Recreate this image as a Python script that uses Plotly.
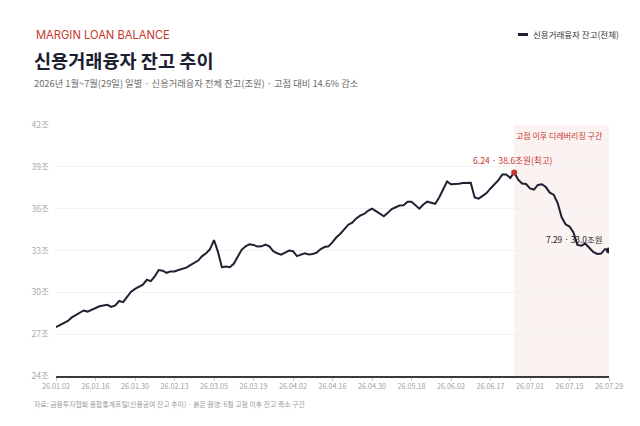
import plotly.graph_objects as go

# ---- data ----
balance = [
    27.5, 27.65, 27.8, 27.95, 28.2, 28.35, 28.55, 28.7, 28.62, 28.75,
    28.9, 29.0, 29.05, 29.1, 28.95, 29.07, 29.38, 29.3, 29.68, 30.05,
    30.25, 30.4, 30.55, 30.9, 30.8, 31.15, 31.6, 31.55, 31.4, 31.5,
    31.5, 31.6, 31.7, 31.77, 31.95, 32.1, 32.28, 32.6, 32.8, 33.1,
    33.75, 32.9, 31.8, 31.85, 31.8, 32.05, 32.55, 33.05, 33.3, 33.45,
    33.4, 33.28, 33.3, 33.42, 33.3, 32.95, 32.8, 32.7, 32.85, 33.0,
    32.95, 32.6, 32.7, 32.8, 32.72, 32.75, 32.85, 33.1, 33.25, 33.3,
    33.6, 33.95, 34.2, 34.5, 34.85, 35.0, 35.3, 35.5, 35.62, 35.85,
    36.0, 35.82, 35.65, 35.45, 35.7, 35.97, 36.1, 36.22, 36.25, 36.5,
    36.5, 36.25, 36.0, 36.3, 36.5, 36.43, 36.35, 36.8, 37.4, 37.95,
    37.75, 37.75, 37.78, 37.84, 37.82, 37.85, 36.8, 36.72, 36.92, 37.12,
    37.45, 37.75, 38.05, 38.45, 38.45, 38.2, 38.6, 38.08, 37.8, 37.77,
    37.45, 37.37, 37.7, 37.75, 37.55, 37.15, 37.0, 36.4, 35.4, 34.88,
    34.72, 34.3, 33.4, 33.35, 33.5, 33.2, 32.9, 32.75, 32.78, 33.1,
    33.0,
]
x_tick_labels = ["26.01.02", "26.01.16", "26.01.30", "26.02.13", "26.03.05",
                 "26.03.19", "26.04.02", "26.04.16", "26.04.30", "26.05.18",
                 "26.06.02", "26.06.17", "26.07.01", "26.07.15", "26.07.29"]
x_tick_step = 10
y_tick_values = [24, 27, 30, 33, 36, 39, 42]
y_tick_labels = ["24조", "27조", "30조", "33조", "36조", "39조", "42조"]

series_name = "신용거래융자 잔고(전체)"
kicker = "MARGIN LOAN BALANCE"
title = "신용거래융자 잔고 추이"
subtitle = "2026년 1월~7월(29일) 일별 · 신용거래융자 전체 잔고(조원) · 고점 대비 14.6% 감소"
footer = "자료: 금융투자협회 종합통계포털(신용공여 잔고 추이) · 붉은 음영: 6월 고점 이후 잔고 축소 구간"
zone_label = "고점 이후 디레버리징 구간"
peak_label = "6.24 · 38.6조원(최고)"
end_label = "7.29 · 33.0조원"

# ---- derived ----
x = list(range(len(balance)))
peak_i = max(x, key=lambda i: balance[i])
last_i = x[-1]
tickvals = [i * x_tick_step for i in range(len(x_tick_labels))]

FONT = "Noto Sans CJK KR, Noto Sans, sans-serif"
RED = "#c8372d"
NAVY = "#1d2131"

W, H = 640, 426
L, R, T, B = 56, 31, 125, 50
pw, ph = W - L - R, H - T - B


def px(xpix):
    return (xpix - L) / pw


def py(ypix):
    return (H - B - ypix) / ph


fig = go.Figure()

# shaded de-leveraging zone
fig.add_shape(type="rect", xref="x", yref="y", x0=peak_i, x1=last_i,
              y0=y_tick_values[0], y1=y_tick_values[-1],
              fillcolor="#fbf2f2", line_width=0, layer="below")

fig.add_trace(go.Scatter(x=x, y=balance, mode="lines", name=series_name,
                         line=dict(color=NAVY, width=2), hoverinfo="skip",
                         showlegend=False))
fig.add_trace(go.Scatter(x=[peak_i], y=[balance[peak_i]], mode="markers",
                         marker=dict(color=RED, size=6), showlegend=False,
                         hoverinfo="skip"))
fig.add_trace(go.Scatter(x=[last_i], y=[balance[last_i]], mode="markers",
                         marker=dict(color=NAVY, size=6), showlegend=False,
                         hoverinfo="skip"))

ann = []
ann.append(dict(x=peak_i, y=balance[peak_i], xref="x", yref="y", text=peak_label,
                showarrow=False, yshift=12, xshift=-1,
                font=dict(family=FONT, size=8.6, color=RED)))
ann.append(dict(x=last_i, y=balance[last_i], xref="x", yref="y", text=end_label,
                showarrow=False, xanchor="right", xshift=-5, yshift=12,
                font=dict(family=FONT, size=8.4, color="#222")))
ann.append(dict(x=last_i, y=y_tick_values[-1], xref="x", yref="y", text=zone_label,
                showarrow=False, xanchor="right", yanchor="top", xshift=-4, yshift=-3,
                font=dict(family=FONT, size=8, color=RED)))
# header
ann.append(dict(x=px(34), y=py(35), xref="paper", yref="paper", text=kicker,
                showarrow=False, xanchor="left", yanchor="middle",
                font=dict(family="Inter, Noto Sans, sans-serif", size=11.2, color=RED)))
ann.append(dict(x=px(32), y=py(59), xref="paper", yref="paper", text="<b>" + title + "</b>",
                showarrow=False, xanchor="left", yanchor="middle",
                font=dict(family=FONT, size=18.6, color="#1b2030")))
ann.append(dict(x=px(32), y=py(83), xref="paper", yref="paper", text=subtitle,
                showarrow=False, xanchor="left", yanchor="middle",
                font=dict(family=FONT, size=9.3, color="#6b6b6b")))
ann.append(dict(x=px(32), y=py(404), xref="paper", yref="paper", text=footer,
                showarrow=False, xanchor="left", yanchor="middle",
                font=dict(family=FONT, size=6.9, color="#9a9a9a")))
# legend
ann.append(dict(x=px(531), y=py(34), xref="paper", yref="paper", text=series_name,
                showarrow=False, xanchor="left", yanchor="middle",
                font=dict(family=FONT, size=8.5, color="#333")))
fig.add_shape(type="line", xref="paper", yref="paper", x0=px(518), x1=px(528),
              y0=py(34.5), y1=py(34.5), line=dict(color=NAVY, width=3))

fig.update_layout(
    width=W, height=H, margin=dict(l=L, r=R, t=T, b=B),
    paper_bgcolor="white", plot_bgcolor="white",
    annotations=ann, showlegend=False,
    font=dict(family=FONT),
    xaxis=dict(range=[0, last_i], tickvals=tickvals, ticktext=x_tick_labels,
               showgrid=False, zeroline=False, showline=True, linecolor="#3a3a3a",
               linewidth=1.5, ticks="outside", ticklen=3, tickcolor="#cccccc",
               tickfont=dict(family=FONT, size=7.2, color="#a0a0a0")),
    yaxis=dict(range=[y_tick_values[0], y_tick_values[-1]], tickvals=y_tick_values,
               ticktext=y_tick_labels, showgrid=True, gridcolor="#f1f1f1", gridwidth=1,
               zeroline=False, showline=False, ticks="", ticklabelstandoff=6,
               tickfont=dict(family=FONT, size=8.6, color="#aaaaaa")),
)

fig.write_html("out.html")
